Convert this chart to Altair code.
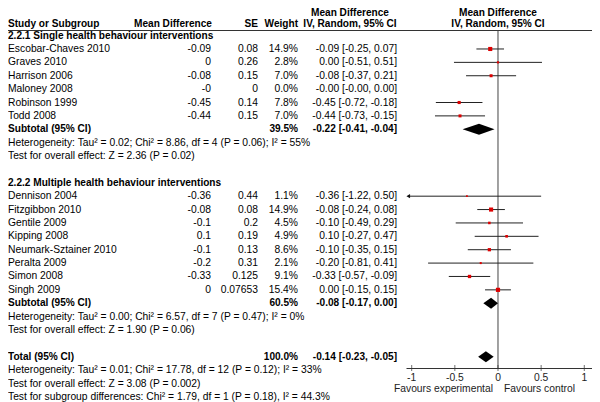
import altair as alt
import pandas as pd

FONT = "Liberation Sans"
FS = 10.3
FSB = 10.1

# ---------------- data ----------------
g1_label = "2.2.1 Single health behaviour interventions"
g1_names = ["Escobar-Chaves 2010", "Graves 2010", "Harrison 2006", "Maloney 2008",
            "Robinson 1999", "Todd 2008"]
g1_md = [-0.09, 0, -0.08, -0.0, -0.45, -0.44]
g1_se = [0.08, 0.26, 0.15, 0, 0.14, 0.15]
g1_weight = [14.9, 2.8, 7.0, 0.0, 7.8, 7.0]
g1_lo = [-0.25, -0.51, -0.37, -0.0, -0.72, -0.73]
g1_hi = [0.07, 0.51, 0.21, 0.00, -0.18, -0.15]

g2_label = "2.2.2 Multiple health behaviour interventions"
g2_names = ["Dennison 2004", "Fitzgibbon 2010", "Gentile 2009", "Kipping 2008",
            "Neumark-Sztainer 2010", "Peralta 2009", "Simon 2008", "Singh 2009"]
g2_md = [-0.36, -0.08, -0.1, 0.1, -0.1, -0.2, -0.33, 0]
g2_se = [0.44, 0.08, 0.2, 0.19, 0.13, 0.31, 0.125, 0.07653]
g2_weight = [1.1, 14.9, 4.5, 4.9, 8.6, 2.1, 9.1, 15.4]
g2_lo = [-1.22, -0.24, -0.49, -0.27, -0.35, -0.81, -0.57, -0.15]
g2_hi = [0.50, 0.08, 0.29, 0.47, 0.15, 0.41, -0.09, 0.15]

sub_labels = ["Subtotal (95% CI)", "Subtotal (95% CI)", "Total (95% CI)"]
sub_weight = [39.5, 60.5, 100.0]
sub_est = [-0.22, -0.08, -0.14]
sub_lo = [-0.41, -0.17, -0.23]
sub_hi = [-0.04, 0.00, -0.05]

notes1 = ["Heterogeneity: Tau\u00b2 = 0.02; Chi\u00b2 = 8.86, df = 4 (P = 0.06); I\u00b2 = 55%",
          "Test for overall effect: Z = 2.36 (P = 0.02)"]
notes2 = ["Heterogeneity: Tau\u00b2 = 0.00; Chi\u00b2 = 6.57, df = 7 (P = 0.47); I\u00b2 = 0%",
          "Test for overall effect: Z = 1.90 (P = 0.06)"]
notes3 = ["Heterogeneity: Tau\u00b2 = 0.01; Chi\u00b2 = 17.78, df = 12 (P = 0.12); I\u00b2 = 33%",
          "Test for overall effect: Z = 3.08 (P = 0.002)",
          "Test for subgroup differences: Chi\u00b2 = 1.79, df = 1 (P = 0.18), I\u00b2 = 44.3%"]

tick_values = [-1, -0.5, 0, 0.5, 1]
tick_labels = ["-1", "-0.5", "0", "0.5", "1"]
favours = ["Favours experimental", "Favours control"]

# ---------------- layout (row order) ----------------
layout = [("head", g1_label)]
layout += [("study", (1, i)) for i in range(len(g1_names))]
layout += [("sub", 0)] + [("note", n) for n in notes1] + [("blank", None)]
layout += [("head", g2_label)]
layout += [("study", (2, i)) for i in range(len(g2_names))]
layout += [("sub", 1)] + [("note", n) for n in notes2] + [("blank", None)]
layout += [("sub", 2)] + [("note", n) for n in notes3]

XMIN, XMAX = -1.066, 1.086
ARROW_X = -1.04

study_rows, sub_rows, head_rows, note_rows = [], [], [], []
for r, (kind, v) in enumerate(layout):
    if kind == "study":
        g, i = v
        names, md, se, w, lo, hi = ((g1_names, g1_md, g1_se, g1_weight, g1_lo, g1_hi) if g == 1
                                    else (g2_names, g2_md, g2_se, g2_weight, g2_lo, g2_hi))
        study_rows.append(dict(
            row=r, name=names[i], md_t=f"{md[i]:g}", se_t=f"{se[i]:g}",
            w_t=f"{w[i]:.1f}%", ci_t=f"{md[i]:.2f} [{lo[i]:.2f}, {hi[i]:.2f}]",
            est=md[i], lo=lo[i], hi=hi[i], lo_c=max(lo[i], ARROW_X), weight=w[i],
            arrow=lo[i] < ARROW_X))
    elif kind == "sub":
        sub_rows.append(dict(row=r, label=sub_labels[v], w_t=f"{sub_weight[v]:.1f}%",
                             ci_t=f"{sub_est[v]:.2f} [{sub_lo[v]:.2f}, {sub_hi[v]:.2f}]",
                             est=sub_est[v], lo=sub_lo[v], hi=sub_hi[v]))
    elif kind == "head":
        head_rows.append(dict(row=r, text=v))
    elif kind == "note":
        note_rows.append(dict(row=r, text=v))

study = pd.DataFrame(study_rows)
subs = pd.DataFrame(sub_rows)
heads = pd.DataFrame(head_rows)
notes = pd.DataFrame(note_rows)

H = 0.41  # diamond half height (rows)
diam = []
for k, s in subs.iterrows():
    diam += [dict(g=k, x=s.lo, y=s.row, y2=s.row),
             dict(g=k, x=s.est, y=s.row - H, y2=s.row + H),
             dict(g=k, x=s.hi, y=s.row, y2=s.row)]
diam = pd.DataFrame(diam)

ticks = pd.DataFrame(dict(v=tick_values, t=tick_labels))
fav = pd.DataFrame(dict(x=[0, 0], t=favours))

# ---------------- scales ----------------
X_SCALE = alt.Scale(domain=[XMIN, XMAX], range=[398, 583.7], nice=False, zero=False)
X_AXIS = alt.Axis(title=None, labels=False, ticks=False, grid=False,
                  domainColor="#333333", domainWidth=1)
Y_SCALE = alt.Scale(domain=[0, 27], range=[27.6, 388.9], nice=False, zero=False)


def X(f):
    return alt.X(f, type="quantitative", scale=X_SCALE, axis=X_AXIS)


def Y(f):
    return alt.Y(f, type="quantitative", scale=Y_SCALE, axis=None)


def text_layer(df, field, x, align, bold=False):
    return alt.Chart(df).mark_text(
        align=align, baseline="middle", font=FONT,
        fontSize=FSB if bold else FS, fontWeight="bold" if bold else "normal",
        color="black").encode(x=alt.value(x), y=Y("row"), text=alt.Text(f"{field}:N"))


X_NAME, X_MD, X_SE, X_W, X_CI = 0, 203, 250, 290, 389
HDR_Y1, HDR_Y2, RULE_Y = -0.5, 16.3, 22.5

hdr = pd.DataFrame(dict(a=[0]))


def hdr_text(txt, x, y, align, baseline="middle"):
    return alt.Chart(hdr).mark_text(
        text=txt, align=align, baseline=baseline, font=FONT, fontSize=FSB,
        fontWeight="bold", color="black").encode(x=alt.value(x), y=alt.value(y))


layers = [
    # header rule
    alt.Chart(hdr).mark_rule(color="#333333", strokeWidth=1).encode(
        x=alt.value(0), x2=alt.value(584), y=alt.value(RULE_Y)),
    # zero line
    alt.Chart(pd.DataFrame(dict(x=[0]))).mark_rule(color="#444444", strokeWidth=1).encode(
        x=X("x"), y=alt.value(RULE_Y), y2=alt.value(360)),
    # CIs
    alt.Chart(study[study.hi > study.lo]).mark_rule(color="#222222", strokeWidth=1).encode(
        x=X("lo_c"), x2="hi:Q", y=Y("row")),
    alt.Chart(study[study.arrow]).mark_point(
        shape="triangle-left", filled=True, color="#111111", size=18, opacity=1).encode(
        x=X("lo_c"), y=Y("row")),
    alt.Chart(study[study.weight > 0]).mark_square(color="#DD0000", opacity=1).encode(
        x=X("est"), y=Y("row"),
        size=alt.Size("weight:Q", scale=alt.Scale(domain=[0, 16], range=[2, 18]), legend=None)),
    # diamonds
    alt.Chart(diam).mark_area(orient="vertical", color="black", opacity=1).encode(
        x=X("x"), y=Y("y"), y2="y2:Q", detail="g:N"),
    # axis ticks & labels
    alt.Chart(ticks).mark_tick(orient="vertical", size=6, thickness=1, color="#333333").encode(
        x=X("v"), y=alt.value(360)),
    alt.Chart(ticks).mark_text(align="center", baseline="middle", font=FONT, fontSize=FS,
                               color="#222222").encode(
        x=X("v"), y=alt.value(369.5), text="t:N"),
    alt.Chart(fav.iloc[[0]]).mark_text(align="right", baseline="middle", font=FONT, fontSize=FS,
                                       dx=-5, color="#222222").encode(
        x=X("x"), y=alt.value(380.5), text="t:N"),
    alt.Chart(fav.iloc[[1]]).mark_text(align="left", baseline="middle", font=FONT, fontSize=FS,
                                       dx=6, color="#222222").encode(
        x=X("x"), y=alt.value(380.5), text="t:N"),
    # column headers
    hdr_text("Study or Subgroup", X_NAME, HDR_Y2, "left"),
    hdr_text("Mean Difference", X_MD + 1, HDR_Y2, "right"),
    hdr_text("SE", X_SE, HDR_Y2, "right"),
    hdr_text("Weight", X_W, HDR_Y2, "right"),
    hdr_text("Mean Difference", 342, HDR_Y1, "center", "top"),
    hdr_text("IV, Random, 95% CI", 342, HDR_Y2, "center"),
    hdr_text("Mean Difference", 490, HDR_Y1, "center", "top"),
    hdr_text("IV, Random, 95% CI", 490, HDR_Y2, "center"),
    # text columns
    text_layer(heads, "text", X_NAME, "left", True),
    text_layer(study, "name", X_NAME, "left"),
    text_layer(study, "md_t", X_MD, "right"),
    text_layer(study, "se_t", X_SE, "right"),
    text_layer(study, "w_t", X_W, "right"),
    text_layer(study, "ci_t", X_CI, "right"),
    text_layer(subs, "label", X_NAME, "left", True),
    text_layer(subs, "w_t", X_W, "right", True),
    text_layer(subs, "ci_t", X_CI, "right", True),
    text_layer(notes, "text", X_NAME, "left"),
]

chart = alt.layer(*layers).properties(
    width=584, height=360,
    padding={"left": 0, "right": 0, "top": 0, "bottom": 34},
    autosize=alt.AutoSizeParams(type="none"),
).configure_view(stroke=None)

chart.save("out.html", embed_options={"renderer": "svg", "actions": False})
